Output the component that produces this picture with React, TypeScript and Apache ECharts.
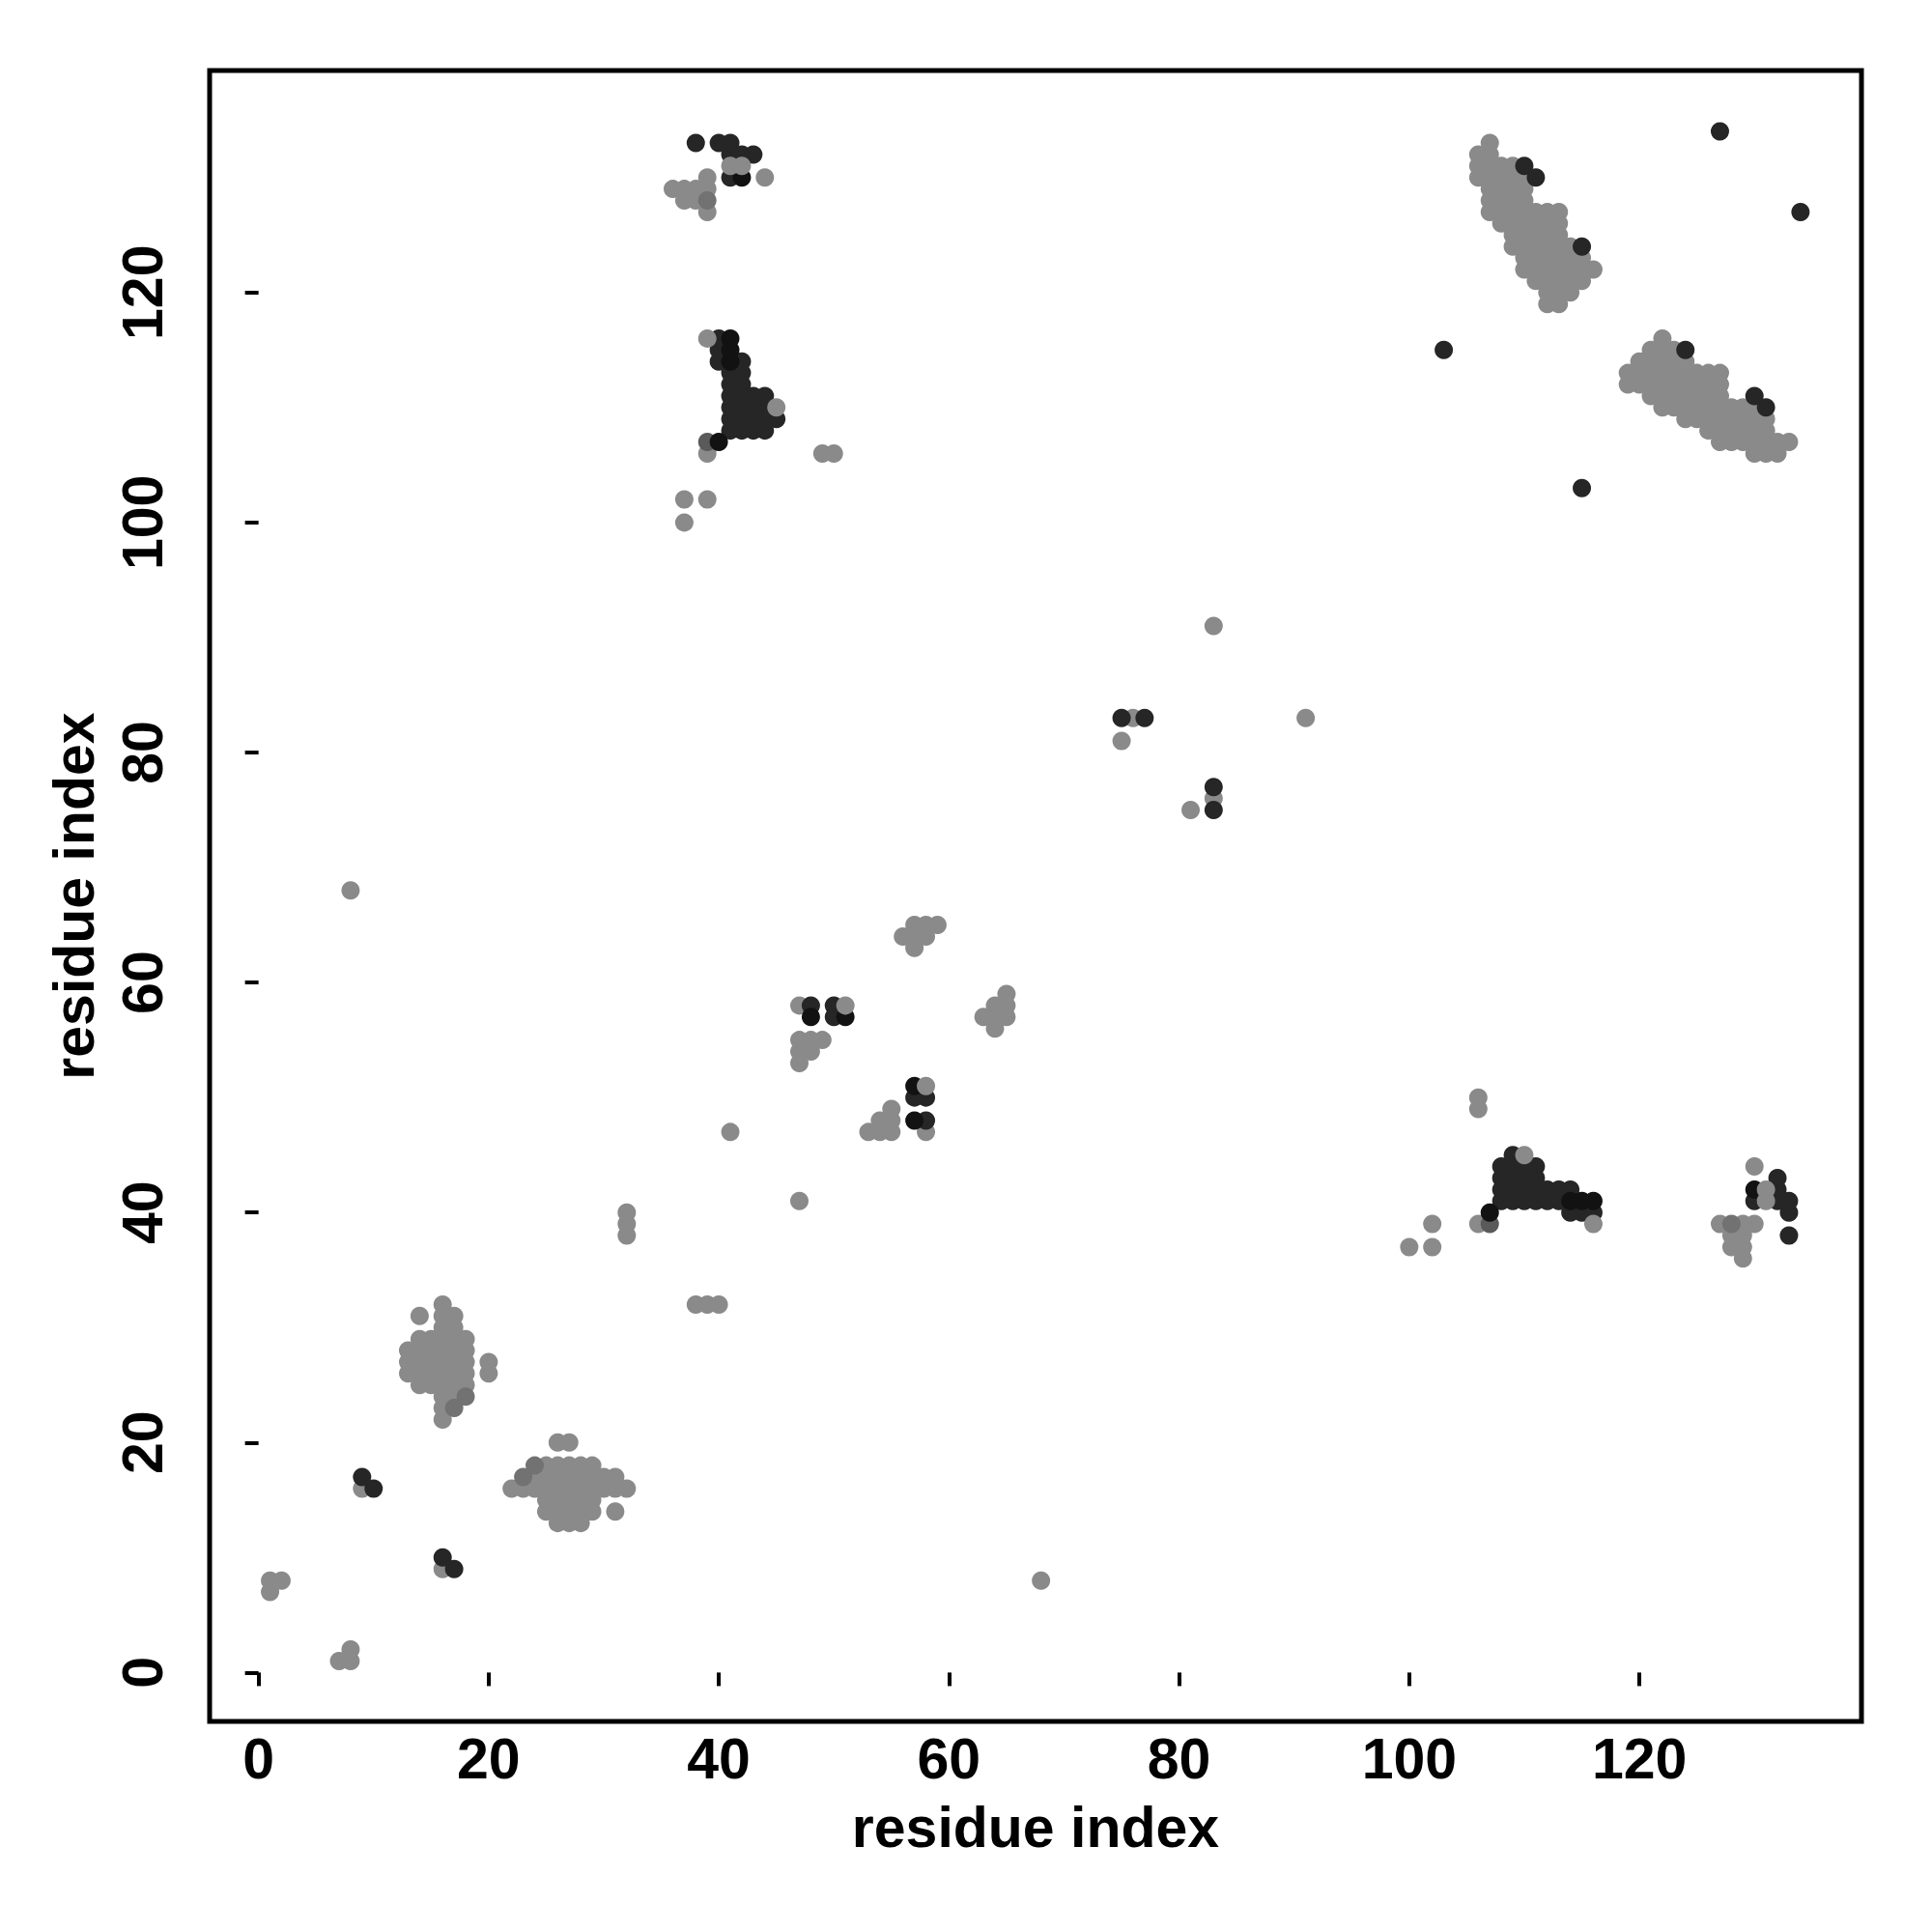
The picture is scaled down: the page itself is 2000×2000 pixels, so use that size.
import React, { useEffect, useRef } from "react";
import * as echarts from "echarts";

type P = [number, number];

const AXIS_TICKS = [0, 20, 40, 60, 80, 100, 120];
const AXIS_TITLE = "residue index";

// light grey contacts (drawn first)
const GREY_POINTS: P[] = [
  // top-right helix pair cluster (upper half)
  [107,133],
  [106,132],[107,132],
  [106,131],[107,131],[108,131],[109,131],
  [106,130],[107,130],[108,130],[109,130],[110,130],
  [107,129],[108,129],[109,129],[110,129],
  [107,128],[108,128],[109,128],[110,128],
  [107,127],[108,127],[109,127],[110,127],[111,127],[112,127],[113,127],
  [108,126],[109,126],[110,126],[111,126],[112,126],[113,126],
  [109,125],[110,125],[111,125],[112,125],[113,125],
  [109,124],[110,124],[111,124],[112,124],[113,124],[114,124],
  [110,123],[111,123],[112,123],[113,123],[114,123],[115,123],
  [110,122],[111,122],[112,122],[113,122],[114,122],[115,122],[116,122],
  [111,121],[112,121],[113,121],[114,121],[115,121],
  [112,120],[113,120],[114,120],
  [112,119],[113,119],
  // same cluster (lower half)
  [133,107],
  [132,106],[132,107],
  [131,106],[131,107],[131,108],[131,109],
  [130,106],[130,107],[130,108],[130,109],[130,110],
  [129,107],[129,108],[129,109],[129,110],
  [128,107],[128,108],[128,109],[128,110],
  [127,107],[127,108],[127,109],[127,110],[127,111],[127,112],[127,113],
  [126,108],[126,109],[126,110],[126,111],[126,112],[126,113],
  [125,109],[125,110],[125,111],[125,112],[125,113],
  [124,109],[124,110],[124,111],[124,112],[124,113],[124,114],
  [123,110],[123,111],[123,112],[123,113],[123,114],[123,115],
  [122,110],[122,111],[122,112],[122,113],[122,114],[122,115],[122,116],
  [121,111],[121,112],[121,113],[121,114],[121,115],
  [120,112],[120,113],[120,114],
  [119,112],[119,113],
  // upper-left small cluster
  [36,129],[37,129],[38,129],[39,129],[37,128],[38,128],[39,127],[39,130],[44,130],
  [129,36],[129,37],[129,38],[129,39],[128,37],[128,38],[127,39],[130,39],[130,44],
  // around 40/110
  [39,106],[37,102],[39,102],[37,100],[49,106],[50,106],
  [106,39],[102,37],[102,39],[100,37],[106,49],[106,50],
  // middle
  [57,65],[58,65],[59,65],[56,64],[57,64],[58,64],[57,63],
  [65,57],[65,58],[65,59],[64,56],[64,57],[64,58],[63,57],
  [47,58],[47,55],[48,55],[49,55],[47,54],[48,54],[47,53],
  [58,47],[55,47],[55,48],[55,49],[54,47],[54,48],[53,47],
  [41,47],[47,41],[32,38],[32,39],[32,40],[38,32],[39,32],[40,32],
  [8,68],[68,8],[83,91],[91,83],[76,83],[83,76],[75,81],[81,75],
  // bottom-left
  [1,7],[1,8],[2,8],[7,1],[8,1],[8,2],[9,16],[16,9],
  // cluster 13-20 / 22-32
  [16,22],[16,23],[16,24],[16,25],[16,26],[16,27],[16,28],[16,29],[16,30],[16,31],[16,32],
  [17,24],[17,25],[17,26],[17,27],[17,28],[17,29],[17,30],[17,31],
  [18,25],[18,26],[18,27],[18,28],[18,29],
  [15,25],[15,26],[15,27],[15,28],[15,29],
  [14,25],[14,26],[14,27],[14,28],[14,29],[14,31],
  [13,26],[13,27],[13,28],
  [20,26],[20,27],
  [22,16],[23,16],[24,16],[25,16],[26,16],[27,16],[28,16],[29,16],[30,16],[31,16],[32,16],
  [24,17],[25,17],[26,17],[27,17],[28,17],[29,17],[30,17],[31,17],
  [25,18],[26,18],[27,18],[28,18],[29,18],
  [25,15],[26,15],[27,15],[28,15],[29,15],
  [25,14],[26,14],[27,14],[28,14],[29,14],[31,14],
  [26,13],[27,13],[28,13],
  [26,20],[27,20],
];

const MID_GREY_POINTS: P[] = [
  [17,23],[18,24],[23,17],[24,18],[39,128],[128,39],
];

const DIM_GREY_POINTS: P[] = [
  [39,107],[107,39],
];

const DARK_POINTS: P[] = [
  [38,133],[40,133],[41,133],[41,132],[42,132],[43,132],[41,130],
  [133,38],[133,40],[133,41],[132,41],[132,42],[132,43],[130,41],
  [45,109],
  [44,108],[44,109],[44,110],[44,111],
  [43,108],[43,109],[43,110],[43,111],
  [42,108],[42,109],[42,110],[42,111],[42,112],[42,113],[42,114],
  [41,108],[41,109],[41,110],[41,111],[41,112],[41,113],
  [40,114],[40,115],[40,116],
  [109,45],
  [108,44],[109,44],[110,44],[111,44],
  [108,43],[109,43],[110,43],[111,43],
  [108,42],[109,42],[110,42],[111,42],[112,42],[113,42],[114,42],
  [108,41],[109,41],[110,41],[111,41],[112,41],[113,41],
  [114,40],[115,40],[116,40],
  [48,58],[50,58],[50,57],[58,48],[58,50],[57,50],
  [75,83],[77,83],[83,75],[83,77],
  [9,17],[10,16],[16,10],[17,9],
  [103,115],[115,103],[127,134],[134,127],
  [110,131],[111,130],[115,124],[131,110],[130,111],[124,115],
];

const BLACK_POINTS: P[] = [
  [41,114],[41,115],[41,116],[114,41],[115,41],[116,41],
  [40,107],[107,40],[42,130],[130,42],
  [48,57],[51,57],[57,48],[57,51],
];

// grey contacts that sit on top of darker neighbours
const GREY_TOP_POINTS: P[] = [
  [45,110],[110,45],[51,58],[58,51],[41,131],[42,131],[131,41],[131,42],[116,39],[39,116],
];

const FONT = "'Liberation Sans', Arial, Helvetica, sans-serif";

export default function App() {
  const ref = useRef<HTMLDivElement>(null);
  useEffect(() => {
    document.body.style.margin = "0";
    const chart = echarts.init(ref.current!, null, { renderer: "svg" });
    const mk = (data: P[], color: string) => ({
      type: "scatter",
      data,
      symbol: "circle",
      symbolSize: 19,
      itemStyle: { color, opacity: 1 },
      silent: true,
    });
    const labelStyle = {
      fontSize: 59,
      fontWeight: "bold",
      color: "#000",
      fontFamily: FONT,
    };
    const axisCommon = {
      type: "value",
      min: -4.25,
      max: 139.3,
      axisLine: { show: false },
      splitLine: { show: false },
      axisTick: {
        show: true,
        length: 14,
        lineStyle: { color: "#000", width: 4 },
        customValues: AXIS_TICKS,
      },
      name: AXIS_TITLE,
      nameLocation: "middle",
      nameTextStyle: { ...labelStyle },
    };
    chart.setOption({
      animation: false,
      backgroundColor: "#fff",
      grid: {
        left: 217,
        top: 73,
        width: 1710,
        height: 1709,
        show: true,
        borderColor: "#000",
        borderWidth: 5,
        backgroundColor: "transparent",
      },
      xAxis: {
        ...axisCommon,
        nameGap: 80,
        axisLabel: { ...labelStyle, margin: 9, customValues: AXIS_TICKS },
      },
      yAxis: {
        ...axisCommon,
        nameGap: 111,
        axisLabel: { ...labelStyle, margin: 40, rotate: 90, customValues: AXIS_TICKS },
      },
      series: [
        mk(GREY_POINTS, "#8a8a8a"),
        mk(MID_GREY_POINTS, "#727272"),
        mk(DIM_GREY_POINTS, "#5a5a5a"),
        mk(DARK_POINTS, "#262626"),
        mk(BLACK_POINTS, "#121212"),
        mk(GREY_TOP_POINTS, "#8a8a8a"),
      ],
    });
    return () => chart.dispose();
  }, []);
  return (
    <div
      ref={ref}
      style={{ position: "absolute", left: 0, top: 0, width: 2000, height: 2000 }}
    />
  );
}
